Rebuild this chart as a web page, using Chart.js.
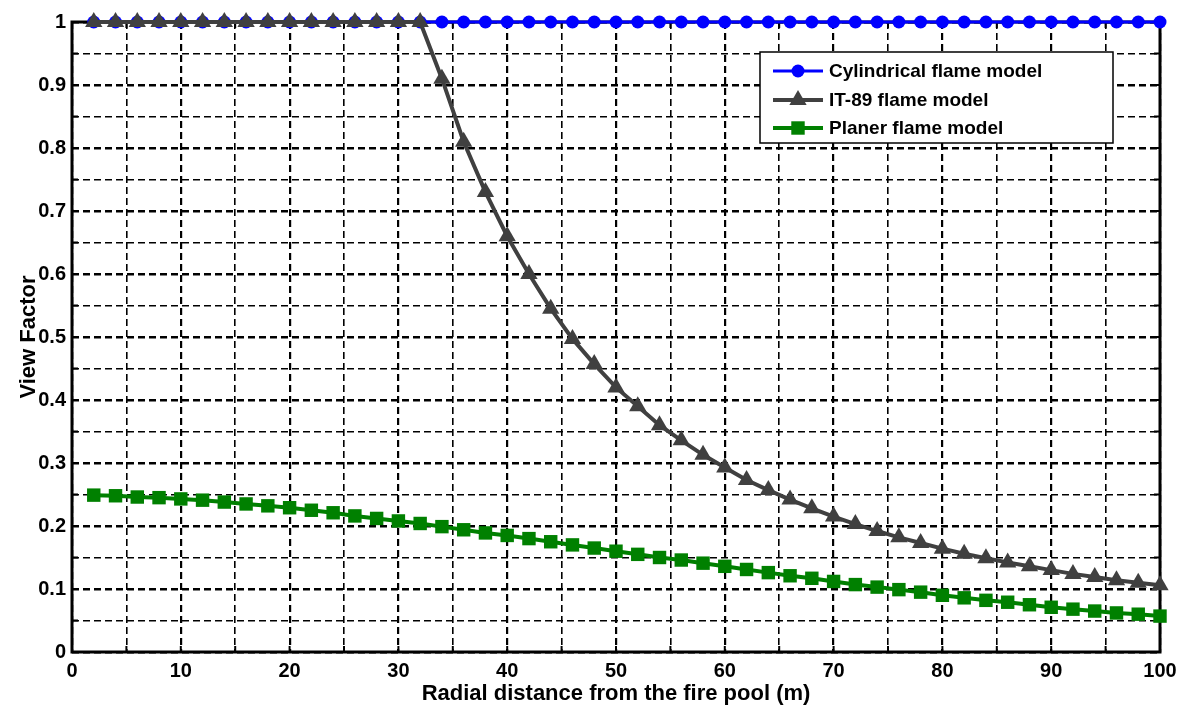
<!DOCTYPE html>
<html>
<head>
<meta charset="UTF-8">
<title>View Factor vs radial distance</title>
<script src="https://cdn.jsdelivr.net/npm/chart.js"></script>
<style>
  html, body { margin: 0; padding: 0; background: #fff; }
  #wrap { width: 1179px; height: 711px; position: relative; }
</style>
</head>
<body>
<div id="wrap"><canvas id="myChart"></canvas></div>
<script>
// radial distance (m)
const distances = [2,4,6,8,10,12,14,16,18,20,22,24,26,28,30,32,34,36,38,40,42,44,46,48,50,
                   52,54,56,58,60,62,64,66,68,70,72,74,76,78,80,82,84,86,88,90,92,94,96,98,100];

const cylindricalVF = [1,1,1,1,1,1,1,1,1,1,1,1,1,1,1,1,1,1,1,1,1,1,1,1,1,
                       1,1,1,1,1,1,1,1,1,1,1,1,1,1,1,1,1,1,1,1,1,1,1,1,1];

const it89VF = [1,1,1,1,1,1,1,1,1,1,1,1,1,1,1,1,0.91,0.81,0.73,0.66,0.60,0.545,0.497,0.457,0.42,
                0.39,0.36,0.336,0.313,0.293,0.273,0.257,0.242,0.228,0.215,0.203,0.192,0.182,0.173,0.164,
                0.156,0.149,0.142,0.136,0.130,0.124,0.119,0.114,0.110,0.106];

const planerVF = [0.249,0.248,0.246,0.245,0.243,0.241,0.238,0.235,0.232,0.229,0.225,0.221,0.216,0.212,0.208,
                  0.204,0.199,0.194,0.189,0.185,0.180,0.175,0.170,0.165,0.160,0.155,0.150,0.146,0.141,0.136,
                  0.131,0.126,0.121,0.117,0.112,0.107,0.103,0.099,0.095,0.090,0.086,0.082,0.079,0.075,0.071,
                  0.068,0.065,0.062,0.060,0.057];

const seriesNames = ['Cylindrical flame model', 'IT-89 flame model', 'Planer flame model'];

const FONT = "'Liberation Sans Narrow', 'Liberation Sans', Arial, sans-serif";

function pts(ys) {
  return distances.map((x, i) => ({ x: x, y: ys[i] }));
}

function isMajor(v, step) {
  const r = v / step;
  return Math.abs(r - Math.round(r)) < 1e-6;
}

// box around the plot area with small inward ticks
const framePlugin = {
  id: 'frame',
  beforeDatasetsDraw(chart) {
    const a = chart.chartArea;
    const ctx = chart.ctx;
    const xs = chart.scales.x, ys = chart.scales.y;
    ctx.save();
    ctx.strokeStyle = '#000';
    ctx.lineWidth = 2;
    ctx.beginPath();
    xs.ticks.forEach(t => {
      const px = xs.getPixelForValue(t.value);
      ctx.moveTo(px, a.bottom); ctx.lineTo(px, a.bottom - 6);
      ctx.moveTo(px, a.top); ctx.lineTo(px, a.top + 6);
    });
    ys.ticks.forEach(t => {
      const py = ys.getPixelForValue(t.value);
      ctx.moveTo(a.left, py); ctx.lineTo(a.left + 6, py);
      ctx.moveTo(a.right, py); ctx.lineTo(a.right - 6, py);
    });
    ctx.stroke();
    ctx.lineWidth = 3;
    ctx.strokeRect(a.left, a.top, a.right - a.left, a.bottom - a.top);
    ctx.restore();
  }
};

function drawMarker(ctx, style, x, y, r, color) {
  ctx.fillStyle = color;
  ctx.beginPath();
  if (style === 'circle') {
    ctx.arc(x, y, r, 0, Math.PI * 2);
  } else if (style === 'triangle') {
    ctx.moveTo(x, y - r);
    ctx.lineTo(x + r * Math.sin(Math.PI * 2 / 3), y + r * 0.5);
    ctx.lineTo(x - r * Math.sin(Math.PI * 2 / 3), y + r * 0.5);
    ctx.closePath();
  } else {
    const s = r * Math.SQRT1_2;
    ctx.rect(x - s, y - s, 2 * s, 2 * s);
  }
  ctx.fill();
}

// legend box inside the plot, top right
const legendPlugin = {
  id: 'insideLegend',
  afterDraw(chart) {
    const ctx = chart.ctx;
    const bx = 760, by = 52, bw = 353, bh = 91;
    ctx.save();
    ctx.fillStyle = '#fff';
    ctx.fillRect(bx, by, bw, bh);
    ctx.strokeStyle = '#000';
    ctx.lineWidth = 1.5;
    ctx.strokeRect(bx, by, bw, bh);
    const rows = [71, 100, 128];
    chart.data.datasets.forEach((ds, i) => {
      const y = rows[i];
      ctx.strokeStyle = ds.borderColor;
      ctx.lineWidth = ds.borderWidth;
      ctx.beginPath();
      ctx.moveTo(773, y);
      ctx.lineTo(823, y);
      ctx.stroke();
      drawMarker(ctx, ds.pointStyle, 798, y, ds.pointRadius, ds.backgroundColor);
      ctx.fillStyle = '#000';
      ctx.font = 'bold 19px ' + FONT;
      ctx.textBaseline = 'middle';
      ctx.textAlign = 'left';
      ctx.fillText(ds.label, 829, y + 1);
    });
    ctx.restore();
  }
};

const config = {
  type: 'line',
  data: {
    datasets: [
      {
        label: seriesNames[0],
        data: pts(cylindricalVF),
        borderColor: '#0000ff',
        backgroundColor: '#0000ff',
        borderWidth: 3,
        pointStyle: 'circle',
        pointRadius: 6.5,
        pointBorderWidth: 0,
        order: 2
      },
      {
        label: seriesNames[1],
        data: pts(it89VF),
        borderColor: '#404040',
        backgroundColor: '#404040',
        borderWidth: 4,
        pointStyle: 'triangle',
        pointRadius: 10,
        pointBorderWidth: 0,
        order: 1
      },
      {
        label: seriesNames[2],
        data: pts(planerVF),
        borderColor: '#008000',
        backgroundColor: '#008000',
        borderWidth: 4,
        pointStyle: 'rect',
        pointRadius: 9.5,
        pointBorderWidth: 0,
        order: 0
      }
    ]
  },
  options: {
    responsive: true,
    maintainAspectRatio: false,
    animation: false,
    clip: false,
    layout: { padding: { top: 22, right: 19, left: 0, bottom: 0 } },
    elements: { line: { tension: 0 } },
    scales: {
      x: {
        type: 'linear',
        min: 0,
        max: 100,
        afterFit(scale) {
          scale.height = 59;
          scale.paddingLeft = 0;
          scale.paddingRight = 0;
        },
        ticks: {
          stepSize: 5,
          autoSkip: false,
          maxRotation: 0,
          padding: 7,
          color: '#000',
          font: { family: FONT, size: 20, weight: 'bold' },
          callback: v => isMajor(v, 10) ? String(v) : ''
        },
        grid: {
          color: '#000',
          drawTicks: false,
          lineWidth: c => (c.tick && isMajor(c.tick.value, 10)) ? 2.2 : 1.6
        },
        border: { display: false, dash: [7, 4] },
        title: {
          display: true,
          text: 'Radial distance from the fire pool (m)',
          color: '#000',
          padding: { top: 2 },
          font: { family: FONT, size: 22, weight: 'bold' }
        }
      },
      y: {
        min: 0,
        max: 1,
        afterFit(scale) {
          scale.width = 72;
          scale.paddingTop = 0;
          scale.paddingBottom = 0;
        },
        ticks: {
          stepSize: 0.05,
          autoSkip: false,
          padding: 6,
          color: '#000',
          font: { family: FONT, size: 20, weight: 'bold' },
          callback: v => {
            if (!isMajor(v, 0.1)) return '';
            if (Math.abs(v) < 1e-9) return '0';
            if (Math.abs(v - 1) < 1e-9) return '1';
            return v.toFixed(1);
          }
        },
        grid: {
          color: '#000',
          drawTicks: false,
          lineWidth: c => (c.tick && isMajor(c.tick.value, 0.1)) ? 2.6 : 1.6
        },
        border: { display: false, dash: [7, 4] },
        title: {
          display: true,
          text: 'View Factor',
          color: '#000',
          padding: { top: 16, bottom: 0 },
          font: { family: FONT, size: 22, weight: 'bold' }
        }
      }
    },
    plugins: {
      legend: { display: false },
      tooltip: { enabled: false }
    }
  },
  plugins: [framePlugin, legendPlugin]
};

new Chart(document.getElementById('myChart'), config);
</script>
</body>
</html>
